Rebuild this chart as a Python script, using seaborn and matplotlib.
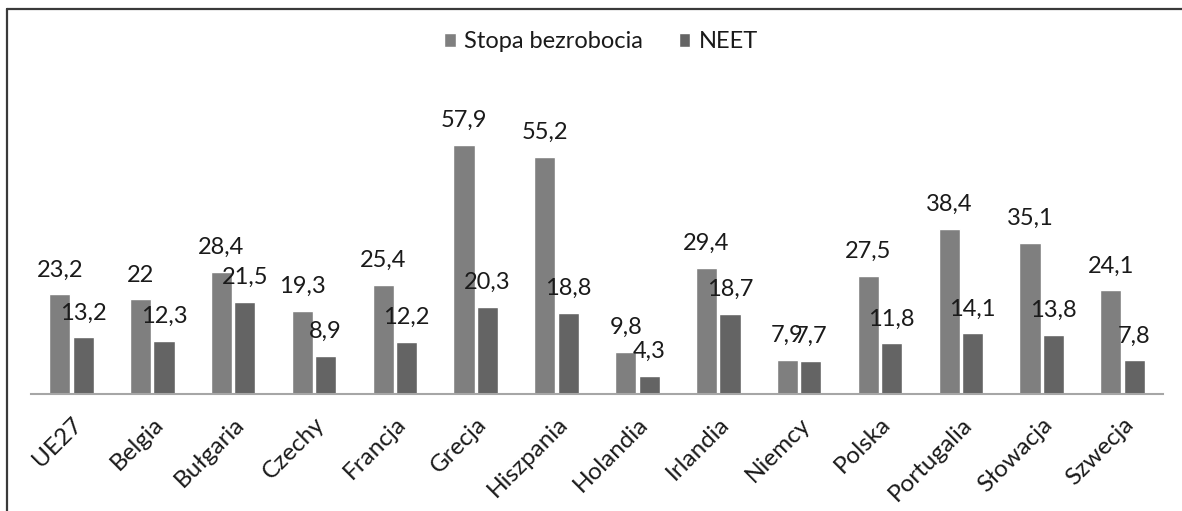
import matplotlib
matplotlib.use("Agg")
import matplotlib.pyplot as plt
from matplotlib.lines import Line2D
import seaborn as sns
import pandas as pd

categories = ["UE27", "Belgia", "Bułgaria", "Czechy", "Francja", "Grecja", "Hiszpania",
              "Holandia", "Irlandia", "Niemcy", "Polska", "Portugalia", "Słowacja", "Szwecja"]
stopa = [23.2, 22, 28.4, 19.3, 25.4, 57.9, 55.2, 9.8, 29.4, 7.9, 27.5, 38.4, 35.1, 24.1]
neet = [13.2, 12.3, 21.5, 8.9, 12.2, 20.3, 18.8, 4.3, 18.7, 7.7, 11.8, 14.1, 13.8, 7.8]
series_names = ["Stopa bezrobocia", "NEET"]

df = pd.DataFrame({
    "kraj": categories * 2,
    "wartosc": stopa + neet,
    "seria": [series_names[0]] * len(categories) + [series_names[1]] * len(categories),
})

sns.set_theme(style="white")
plt.rcParams["font.family"] = ["Lato", "DejaVu Sans"]

fig = plt.figure(figsize=(11.82, 5.11), dpi=100)
ax = fig.add_axes([31 / 1182, 117 / 511, 1132 / 1182, 0.60])

sns.barplot(data=df, x="kraj", y="wartosc", hue="seria", hue_order=series_names,
            palette=["#7f7f7f", "#646464"], width=0.58, gap=0.1, ax=ax,
            saturation=1, legend=True)

ax.set_ylim(0, 71.3)
ax.set_xlim(-0.5, len(categories) - 0.5)

def fmt(v):
    return f"{v:g}".replace(".", ",")

for cont in ax.containers:
    ax.bar_label(cont, labels=[fmt(b.get_height()) for b in cont], padding=10,
                 fontsize=17, color="#1a1a1a")

for s in ["top", "right", "left"]:
    ax.spines[s].set_visible(False)
ax.spines["bottom"].set_color("#a6a6a6")
ax.spines["bottom"].set_linewidth(1.5)
ax.set_yticks([])
ax.set_xlabel("")
ax.set_ylabel("")
ax.tick_params(axis="x", length=0, pad=14)
plt.setp(ax.get_xticklabels(), rotation=45, ha="right", rotation_mode="anchor",
         fontsize=17.5, color="#1a1a1a")

handles, labels = ax.get_legend_handles_labels()
ax.legend(handles, labels, loc="center", bbox_to_anchor=(601 / 1182, 1 - 42 / 511),
          bbox_transform=fig.transFigure, ncol=2, frameon=False, fontsize=17,
          handlelength=0.5, handleheight=0.5, handletextpad=0.35, columnspacing=1.5,
          labelcolor="#1a1a1a")

fig.add_artist(Line2D([7 / 1182, 7 / 1182], [0, 1 - 9 / 511], transform=fig.transFigure,
                      color="#3a3a3a", lw=1.6))
fig.add_artist(Line2D([7 / 1182, 1], [1 - 9 / 511, 1 - 9 / 511], transform=fig.transFigure,
                      color="#3a3a3a", lw=1.6))

fig.savefig("out.png", dpi=100)
